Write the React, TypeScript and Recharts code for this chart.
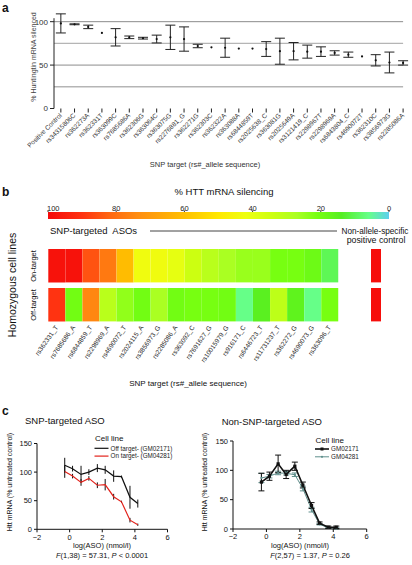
import React from "react";
import {
  ComposedChart,
  Line,
  ErrorBar,
  XAxis,
  YAxis,
  ReferenceLine,
  BarChart,
  Bar,
  Cell,
  LineChart,
  Legend,
} from "recharts";

const FONT = "'Liberation Sans', Arial, Helvetica, sans-serif";

// ---- panel a: silencing screen
const screenTargets = [
  "Positive Control", "rs34315806C", "rs362273A", "rs362331T", "rs363099C",
  "rs7685686A", "rs362306G", "rs363064C", "rs363075G", "rs2276881_G",
  "rs362271G", "rs362303C", "rs362322A", "rs363088A", "rs6844859T",
  "rs2025638_C", "rs363081G", "rs2025649A", "rs3121419_C", "rs2298967T",
  "rs2298969A", "rs6843804_C", "rs4690072T", "rs362310C", "rs3856973G",
  "rs2285086A",
];
const screenSilenced = [98, 97, 94, 87, 82, 82, 81, 80, 82, 80, 72, 70.5, 70, 69, 69, 68.5, 66, 66, 65.5, 65.5, 64, 62, 60, 55.5, 53, 52.5];
const screenErr = [11, 0.5, 2, 0, 10, 1.5, 1, 4.5, 14, 14, 2, 0, 11, 0, 0, 8.5, 15, 10, 7.5, 5.5, 2.5, 3, 0, 6.5, 12, 2.5];
const screenTicks = [0, 50, 100];
const screenMajor = [50, 100];
const screenMinor = [25, 75];

// ---- panel b: heatmap
const heatTargets = [
  "rs362331_T", "rs7685686_A", "rs6844859_T", "rs2298969_A", "rs4690072_T",
  "rs2024115_A", "rs3856973_G", "rs2285086_A", "rs363092_C", "rs7691627_G",
  "rs10015979_G", "rs916171_C", "rs6446723_T", "rs11731237_T", "rs362272_G",
  "rs4690073_G", "rs363096_T",
];
const onTarget = [98, 98, 85, 78, 61, 43, 43, 40, 34, 30, 27, 25, 25, 21, 21, 19, 10];
const offTarget = [90, 20, 75, 30, 24, 20, 27, 20, 21, 21, 20, 6, 15, 31, 16, 6, 21];
const controlOn = [99];
const controlOff = [99];
const scaleTicks = [100, 80, 60, 40, 20, 0];
const scaleStops = [100, 90, 82, 74, 60, 50, 42, 34, 27, 21, 14, 6, 0];
const scaleColors = [
  "#f50a0a", "#ff3311", "#ff6611", "#ff8c11", "#ffc000", "#ffe800", "#eeff11",
  "#ccff11", "#aaff22", "#77ff11", "#55ee22", "#66ff88", "#5ccfee",
];

// ---- panel c: dose response
const logDose = [-0.3, 0.18, 0.7, 1.18, 1.7, 2.18, 2.7, 3.18, 3.7, 4.18];
const snpOff = [112, 106, 96, 100, 107, 104, 93, 92, 56, 45];
const snpOffErr = [13, 5, 15, 5, 7, 7, 10, 2, 20, 7];
const snpOn = [101, 93, 82, 89, 77, 78, 57, 48, 16, 8];
const snpOnErr = [11, 4, 6, 4, 5, 10, 5, 2, 4, 2];
const ctlA = [80, 90, 111, 93, 107, 75, 40, 10, 3, 3];
const ctlAErr = [15, 7, 15, 7, 7, 5, 5, 2, 2, 2];
const ctlB = [87, 90, 95.5, 95, 92.5, 69, 33, 8, 2, 1];
const ctlBErr = [8, 3, 3, 3, 3, 4, 4, 1, 1, 1];
const doseTicks = [-2, 0, 2, 4, 6];
const mrnaTicks = [0, 50, 100, 150];
const snpLegendOrder = ["Off target- (GM02171)", "On target- (GM04281)"];
const ctlLegendOrder = ["GM02171", "GM04281"];

function hexRgb(h: string) {
  const n = parseInt(h.slice(1), 16);
  return [(n >> 16) & 255, (n >> 8) & 255, n & 255];
}

function heatColor(v: number) {
  for (let i = 0; i < scaleStops.length - 1; i++) {
    const hi = scaleStops[i];
    const lo = scaleStops[i + 1];
    if (v <= hi && v >= lo) {
      const t = (hi - v) / (hi - lo);
      const a = hexRgb(scaleColors[i]);
      const b = hexRgb(scaleColors[i + 1]);
      const c = a.map((x, k) => Math.round(x + (b[k] - x) * t));
      return `rgb(${c[0]},${c[1]},${c[2]})`;
    }
  }
  return v > 100 ? scaleColors[0] : scaleColors[scaleColors.length - 1];
}

const screenRows = screenTargets.map((name, i) => ({
  idx: i,
  name,
  v: screenSilenced[i],
  e: screenErr[i],
}));

const GAP = 0.168;
const heatRows = heatTargets.map((name) => ({ name, off: 1, gap: GAP, on: 1 }));
const controlRows = [{ name: "Positive control", off: 1, gap: GAP, on: 1 }];

const snpRows = logDose.map((x, i) => ({
  x,
  off: snpOff[i],
  offErr: snpOffErr[i],
  on: snpOn[i],
  onErr: snpOnErr[i],
}));
const ctlRows = logDose.map((x, i) => ({
  x,
  a: ctlA[i],
  aErr: ctlAErr[i],
  b: ctlB[i],
  bErr: ctlBErr[i],
}));

function AngledTick(props: any) {
  const { x, y, payload, angle, size, fill, format } = props;
  const label = format ? format(payload.value) : payload.value;
  return (
    <text
      x={x}
      y={y}
      dy={size * 0.3}
      textAnchor="end"
      transform={`rotate(${angle}, ${x}, ${y})`}
      fontSize={size}
      fill={fill}
      fontFamily={FONT}
    >
      {label}
    </text>
  );
}

function ScaleTick({ x, y, payload }: any) {
  const v = payload.value;
  return (
    <text
      x={v === 100 ? x - 1 : x}
      y={y}
      dy={2}
      textAnchor={v === 100 ? "start" : "middle"}
      fontSize={7.5}
      fontFamily={FONT}
      fill="#222"
    >
      {v}
    </text>
  );
}

const minus = (v: number) => (v < 0 ? `\u2212${Math.abs(v)}` : `${v}`);

function CellLineLegend({ payload, order, markers, titleY, rowY, lineX }: any) {
  const items = [...(payload || [])].sort(
    (p: any, q: any) => order.indexOf(p.value) - order.indexOf(q.value)
  );
  return (
    <svg width={100} height={28} style={{ display: "block", overflow: "visible" }}>
      <text x={lineX + 0.5} y={titleY} fontSize={8} fontFamily={FONT} fill="#111">
        Cell line
      </text>
      {items.map((p: any, i: number) => {
        const y = rowY + i * 7.8;
        const m = markers[p.value] || { kind: "none", w: 1.2 };
        return (
          <g key={p.value}>
            <line x1={lineX} x2={lineX + 14} y1={y} y2={y} stroke={p.color} strokeWidth={m.w} />
            {m.kind === "square" && <rect x={lineX + 5.5} y={y - 1.5} width={3} height={3} fill={p.color} />}
            {m.kind === "dot" && <circle cx={lineX + 7} cy={y} r={1.1} fill={p.color} />}
            <text x={lineX + 16} y={y + 2.2} fontSize={6.3} fontFamily={FONT} fill="#222">
              {p.value}
            </text>
          </g>
        );
      })}
    </svg>
  );
}

const Square = (props: any) => {
  const { cx, cy } = props;
  if (cx == null || cy == null) return <g />;
  return <rect x={cx - 1.6} y={cy - 1.6} width={3.2} height={3.2} fill="#111" />;
};

function T(props: any) {
  const { x, y, size = 8, anchor = "start", rotate, bold, fill = "#111", children } = props;
  return (
    <text
      x={x}
      y={y}
      fontSize={size}
      textAnchor={anchor}
      fontWeight={bold ? "bold" : "normal"}
      fill={fill}
      fontFamily={FONT}
      transform={rotate ? `rotate(${rotate}, ${x}, ${y})` : undefined}
    >
      {children}
    </text>
  );
}

export default function App() {
  const abs = (left: number, top: number): React.CSSProperties => ({
    position: "absolute",
    left,
    top,
  });
  return (
    <div
      style={{
        position: "absolute",
        left: 0,
        top: 0,
        width: 412,
        height: 565,
        overflow: "hidden",
        background: "#fff",
        fontFamily: FONT,
      }}
    >
      {/* a */}
      <div style={abs(0, 0)}>
        <ComposedChart width={412} height={160} data={screenRows} margin={{ top: 13, right: 8.9, bottom: 0, left: 0 }}>
          <XAxis
            dataKey="idx"
            type="number"
            domain={[-0.5, 25]}
            ticks={screenRows.map((r) => r.idx)}
            interval={0}
            axisLine={false}
            tickLine={{ stroke: "#222" }}
            tickSize={4}
            height={51.5}
            tick={<AngledTick angle={-45} size={6.5} fill="#333" format={(i: number) => screenTargets[i]} />}
          />
          <YAxis
            type="number"
            domain={[0, 110]}
            ticks={screenTicks}
            width={54}
            axisLine={false}
            tickLine={{ stroke: "#222" }}
            tickSize={4}
            tick={{ fontSize: 8, fill: "#333", fontFamily: FONT }}
          />
          {screenMinor.map((g) => (
            <ReferenceLine key={g} y={g} stroke="#b5b5b5" strokeWidth={1.4} />
          ))}
          {screenMajor.map((g) => (
            <ReferenceLine key={g} y={g} stroke="#8c8c8c" strokeWidth={1} />
          ))}
          <ReferenceLine
            segment={[
              { x: -0.5, y: 0 },
              { x: -0.5, y: 104 },
            ]}
            stroke="#222"
            strokeWidth={1}
          />
          <Line
            dataKey="v"
            stroke="none"
            dot={{ r: 1.1, fill: "#111", stroke: "none" }}
            activeDot={false}
            isAnimationActive={false}
          >
            <ErrorBar dataKey="e" direction="y" width={5} stroke="#222" strokeWidth={1} />
          </Line>
        </ComposedChart>
      </div>

      {/* b: colour scale */}
      <div style={abs(0, 195)}>
        <BarChart
          width={412}
          height={24}
          layout="vertical"
          data={[{ name: "scale", v: 100 }]}
          margin={{ top: 0, right: 23, bottom: 0, left: 48 }}
          barCategoryGap={0}
        >
          <defs>
            <linearGradient id="heatGrad" x1="0" x2="1" y1="0" y2="0">
              {scaleStops.map((s, i) => (
                <stop key={s} offset={`${100 - s}%`} stopColor={scaleColors[i]} />
              ))}
            </linearGradient>
          </defs>
          <XAxis
            type="number"
            orientation="top"
            domain={[0, 100]}
            reversed
            ticks={scaleTicks}
            height={17}
            axisLine={false}
            tickLine={{ stroke: "#333" }}
            tickSize={1.5}
            tick={<ScaleTick />}
          />
          <YAxis type="category" dataKey="name" hide />
          <Bar dataKey="v" fill="url(#heatGrad)" isAnimationActive={false} />
        </BarChart>
      </div>

      {/* b: heatmap */}
      <div style={abs(0, 249.3)}>
        <BarChart
          width={345}
          height={132}
          data={heatRows}
          margin={{ top: 0, right: 6.7, bottom: 0, left: 48.3 }}
          barCategoryGap={0}
        >
          <XAxis
            dataKey="name"
            interval={0}
            axisLine={false}
            tickLine={false}
            tickSize={3}
            height={59.6}
            tick={<AngledTick angle={-55} size={6.5} fill="#222" />}
          />
          <YAxis hide domain={[0, 2 + GAP]} />
          <Bar dataKey="off" stackId="h" isAnimationActive={false}>
            {offTarget.map((v, i) => (
              <Cell key={i} fill={heatColor(v)} />
            ))}
          </Bar>
          <Bar dataKey="gap" stackId="h" fill="none" isAnimationActive={false} />
          <Bar dataKey="on" stackId="h" isAnimationActive={false}>
            {onTarget.map((v, i) => (
              <Cell key={i} fill={heatColor(v)} />
            ))}
          </Bar>
        </BarChart>
      </div>
      <div style={abs(371, 249.3)}>
        <BarChart width={10} height={72.4} data={controlRows} margin={{ top: 0, right: 0, bottom: 0, left: 0 }} barCategoryGap={0}>
          <XAxis dataKey="name" hide />
          <YAxis hide domain={[0, 2 + GAP]} />
          <Bar dataKey="off" stackId="h" isAnimationActive={false}>
            {controlOff.map((v, i) => (
              <Cell key={i} fill={heatColor(v)} />
            ))}
          </Bar>
          <Bar dataKey="gap" stackId="h" fill="none" isAnimationActive={false} />
          <Bar dataKey="on" stackId="h" isAnimationActive={false}>
            {controlOn.map((v, i) => (
              <Cell key={i} fill={heatColor(v)} />
            ))}
          </Bar>
        </BarChart>
      </div>

      {/* c: SNP-targeted */}
      <div style={abs(0, 435)}>
        <LineChart width={200} height={110} data={snpRows} margin={{ top: 8.5, right: 32.5, bottom: 0, left: 0 }}>
          <XAxis
            type="number"
            dataKey="x"
            domain={[-2, 6]}
            ticks={doseTicks}
            tickFormatter={minus}
            height={15.7}
            tickSize={3}
            stroke="#111"
            tick={{ fontSize: 7.5, fill: "#111", fontFamily: FONT }}
          />
          <YAxis
            domain={[0, 150]}
            ticks={mrnaTicks}
            width={37}
            tickSize={3}
            stroke="#111"
            tick={{ fontSize: 7.5, fill: "#111", fontFamily: FONT }}
          />
          <Line
            dataKey="off"
            name="Off target- (GM02171)"
            stroke="#111"
            strokeWidth={1.2}
            dot={false}
            activeDot={false}
            isAnimationActive={false}
          >
            <ErrorBar dataKey="offErr" direction="y" width={0} stroke="#111" strokeWidth={1} />
          </Line>
          <Line
            dataKey="on"
            name="On target- (GM04281)"
            stroke="#e3221b"
            strokeWidth={1.2}
            dot={false}
            activeDot={false}
            isAnimationActive={false}
          >
            <ErrorBar dataKey="onErr" direction="y" width={0} stroke="#111" strokeWidth={1} />
          </Line>
          <Legend
            layout="vertical"
            align="center"
            verticalAlign="middle"
            wrapperStyle={{ left: 93, top: 0, width: 100, height: 28 }}
            content={(p: any) => (
              <CellLineLegend
                payload={p.payload}
                order={snpLegendOrder}
                titleY={6}
                rowY={13.3}
                lineX={1.5}
                markers={{}}
              />
            )}
          />
        </LineChart>
      </div>

      {/* c: non-SNP-targeted */}
      <div style={abs(200, 435)}>
        <LineChart width={200} height={110} data={ctlRows} margin={{ top: 6, right: 33.3, bottom: 0, left: 0 }}>
          <XAxis
            type="number"
            dataKey="x"
            domain={[-2, 6]}
            ticks={doseTicks}
            tickFormatter={minus}
            height={16}
            tickSize={3}
            stroke="#111"
            tick={{ fontSize: 7.5, fill: "#111", fontFamily: FONT }}
          />
          <YAxis
            domain={[0, 150]}
            ticks={mrnaTicks}
            width={33}
            tickSize={3}
            stroke="#111"
            tick={{ fontSize: 7.5, fill: "#111", fontFamily: FONT }}
          />
          <Line
            dataKey="b"
            name="GM04281"
            stroke="#5f8f8c"
            strokeWidth={1}
            dot={{ r: 1.1, fill: "#5f8f8c", stroke: "none" }}
            activeDot={false}
            isAnimationActive={false}
          >
            <ErrorBar dataKey="bErr" direction="y" width={3} stroke="#5f8f8c" strokeWidth={1} />
          </Line>
          <Line
            dataKey="a"
            name="GM02171"
            stroke="#111"
            strokeWidth={1.6}
            dot={<Square />}
            activeDot={false}
            isAnimationActive={false}
          >
            <ErrorBar dataKey="aErr" direction="y" width={3} stroke="#111" strokeWidth={1} />
          </Line>
          <Legend
            layout="vertical"
            align="center"
            verticalAlign="middle"
            wrapperStyle={{ left: 114, top: 0, width: 100, height: 28 }}
            content={(p: any) => (
              <CellLineLegend
                payload={p.payload}
                order={ctlLegendOrder}
                titleY={8}
                rowY={14}
                lineX={1}
                markers={{
                  GM02171: { kind: "square", w: 1.6 },
                  GM04281: { kind: "dot", w: 1 },
                }}
              />
            )}
          />
        </LineChart>
      </div>

      {/* free text and annotations */}
      <svg width={412} height={565} style={{ position: "absolute", left: 0, top: 0, pointerEvents: "none" }}>
        <T x={2} y={12} size={12} bold>a</T>
        <T x={35.5} y={57} size={7} anchor="middle" rotate={-90} fill="#444">
          % Huntingtin mRNA silenced
        </T>
        <T x={205} y={166.5} size={7.5} anchor="middle" fill="#333">
          SNP target (rs#_allele sequence)
        </T>

        <T x={2} y={196} size={12} bold>b</T>
        <T x={224} y={195} size={9.5} anchor="middle">% HTT mRNA silencing</T>
        <T x={50} y={234} size={9.5}>{"SNP-targeted\u00a0 ASOs"}</T>
        <line x1={150} x2={337} y1={231} y2={231} stroke="#444" strokeWidth={1} />
        <T x={375} y={234} size={8.2} anchor="middle">Non-allele-specific</T>
        <T x={376} y={242.5} size={8.8} anchor="middle">positive control</T>
        <T x={16} y={285} size={10.5} anchor="middle" rotate={-90}>Homozygous cell lines</T>
        <T x={36} y={266} size={7.5} anchor="middle" rotate={-90}>On-target</T>
        <T x={36} y={305} size={7.5} anchor="middle" rotate={-90}>Off-target</T>
        <T x={188} y={385.5} size={8} anchor="middle">SNP target (rs#_allele sequence)</T>

        <T x={2} y={415} size={12} bold>c</T>
        <T x={25} y={424} size={9.5}>SNP-targeted ASO</T>
        <T x={221.7} y={425} size={9.5}>Non-SNP-targeted ASO</T>
        <T x={12} y={482} size={7} anchor="middle" rotate={-90}>Htt mRNA (% untreated control)</T>
        <T x={207} y={482} size={7} anchor="middle" rotate={-90}>Htt mRNA (% untreated control)</T>
        <T x={102} y={548} size={7.5} anchor="middle">log(ASO) (nmol/l)</T>
        <T x={300} y={548} size={7.5} anchor="middle">log(ASO) (nmol/l)</T>
        <text x={102} y={558} fontSize={7.5} textAnchor="middle" fontFamily={FONT} fill="#111">
          <tspan fontStyle="italic">F</tspan>(1,38) = 57.31, <tspan fontStyle="italic">P</tspan> {"< 0.0001"}
        </text>
        <text x={310} y={558} fontSize={7.5} textAnchor="middle" fontFamily={FONT} fill="#111">
          <tspan fontStyle="italic">F</tspan>(2,57) = 1.37, <tspan fontStyle="italic">P</tspan> = 0.26
        </text>
      </svg>
    </div>
  );
}
